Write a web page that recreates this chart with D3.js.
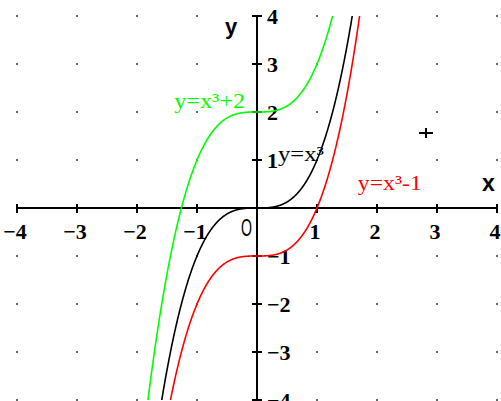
<!DOCTYPE html>
<html>
<head>
<meta charset="utf-8">
<script src="https://cdn.jsdelivr.net/npm/d3@7"></script>
<style>
  html, body { margin: 0; padding: 0; background: #fff; }
  svg { display: block; }
</style>
</head>
<body>
<svg id="chart" width="501" height="401"></svg>
<script>
// Plot window and ticks
const xDomain = [-4, 4];
const yDomain = [-4, 4];
const xTicks = [-4, -3, -2, -1, 1, 2, 3, 4];
const yTicks = [-4, -3, -2, -1, 1, 2, 3, 4];
const gridValues = [-4, -3, -2, -1, 0, 1, 2, 3, 4];

// The three cubics y = x³ + c
const curveNames = ["y=x³+2", "y=x³", "y=x³-1"];
const curveOffsets = [2, 0, -1];
const curveColors = ["#00ff00", "#000000", "#ff0000"];
// Label anchor points (data units) and widths for each curve name
const labelX = [-1.38, 0.35, 1.68];
const labelY = [2.08, 0.97, 0.37];
const labelWidth = [71, 46, 64];

// Cursor cross
const cursorPoint = [2.82, 1.56];

const svg = d3.select("#chart");
const x = d3.scaleLinear().domain(xDomain).range([17, 497]);
const y = d3.scaleLinear().domain(yDomain).range([400, 16]);

const minus = v => (v < 0 ? "\u2212" + Math.abs(v) : String(v));

// Dotted grid at integer points, skipping the axes
const dots = [];
gridValues.forEach(gx => gridValues.forEach(gy => {
  if (gx !== 0 && gy !== 0) dots.push([gx, gy]);
}));
svg.append("g").selectAll("rect").data(dots).join("rect")
  .attr("x", d => x(d[0]) - 1)
  .attr("y", d => y(d[1]) - 1)
  .attr("width", 2).attr("height", 2)
  .attr("fill", "#666");

// Axes
const axes = svg.append("g").attr("stroke", "#000").attr("stroke-width", 2)
  .attr("shape-rendering", "crispEdges");
axes.append("line")
  .attr("x1", x(-4)).attr("x2", x(4))
  .attr("y1", y(0)).attr("y2", y(0));
axes.append("line")
  .attr("x1", x(0)).attr("x2", x(0))
  .attr("y1", y(4)).attr("y2", y(-4));
axes.selectAll(".xt").data(xTicks).join("line").attr("class", "xt")
  .attr("x1", d => x(d)).attr("x2", d => x(d))
  .attr("y1", y(0) - 4.5).attr("y2", y(0) + 4.5);
axes.selectAll(".yt").data(yTicks).join("line").attr("class", "yt")
  .attr("x1", x(0) - 5).attr("x2", x(0) + 5)
  .attr("y1", d => y(d)).attr("y2", d => y(d));

// Tick labels
const tickFont = "'Liberation Serif', 'Times New Roman', serif";
svg.append("g").selectAll("text").data(xTicks).join("text")
  .attr("x", d => x(d) - 2)
  .attr("y", y(0) + 31)
  .attr("text-anchor", "middle")
  .attr("font-family", tickFont).attr("font-weight", "bold")
  .attr("font-size", 22)
  .text(minus);
svg.append("g").selectAll("text").data(yTicks).join("text")
  .attr("x", x(0) + 10)
  .attr("y", d => y(d) + 7.5)
  .attr("text-anchor", "start")
  .attr("font-family", tickFont).attr("font-weight", "bold")
  .attr("font-size", 22)
  .text(minus);

// Axis names and origin
svg.append("text")
  .attr("x", x(0) - 32).attr("y", y(4) + 18)
  .attr("font-family", "'Liberation Sans', Arial, sans-serif")
  .attr("font-weight", "bold").attr("font-size", 22)
  .text("y");
svg.append("text")
  .attr("x", x(4) - 15).attr("y", y(0) - 17)
  .attr("font-family", "'Liberation Sans', Arial, sans-serif")
  .attr("font-weight", "bold").attr("font-size", 23)
  .text("x");
svg.append("text")
  .attr("x", x(0) - 16).attr("y", y(0) + 28)
  .attr("font-family", "'Liberation Sans', Arial, sans-serif")
  .attr("font-size", 24)
  .attr("textLength", 11).attr("lengthAdjust", "spacingAndGlyphs")
  .text("O");

// Curves, clipped to the plot window
svg.append("clipPath").attr("id", "plotClip")
  .append("rect")
  .attr("x", x(-4)).attr("y", y(4))
  .attr("width", x(4) - x(-4)).attr("height", y(-4) - y(4));

const xs = d3.range(-2.2, 2.2001, 0.005);
const line = d3.line().x(d => x(d[0])).y(d => y(d[1]));
svg.append("g").attr("clip-path", "url(#plotClip)")
  .selectAll("path").data(curveOffsets).join("path")
  .attr("d", c => line(xs.map(v => [v, v * v * v + c])))
  .attr("fill", "none")
  .attr("stroke", (c, i) => curveColors[i])
  .attr("stroke-width", 1.6);

// Curve names
svg.append("g").selectAll("text").data(curveNames).join("text")
  .attr("x", (d, i) => x(labelX[i]))
  .attr("y", (d, i) => y(labelY[i]))
  .attr("font-family", tickFont)
  .attr("font-size", 22)
  .attr("textLength", (d, i) => labelWidth[i])
  .attr("lengthAdjust", "spacingAndGlyphs")
  .attr("fill", (d, i) => curveColors[i])
  .text(d => d);

// Cursor cross
const cross = svg.append("g").attr("stroke", "#000").attr("stroke-width", 1.5)
  .attr("shape-rendering", "crispEdges");
cross.append("line")
  .attr("x1", x(cursorPoint[0]) - 7).attr("x2", x(cursorPoint[0]) + 7)
  .attr("y1", y(cursorPoint[1])).attr("y2", y(cursorPoint[1]));
cross.append("line")
  .attr("x1", x(cursorPoint[0])).attr("x2", x(cursorPoint[0]))
  .attr("y1", y(cursorPoint[1]) - 5).attr("y2", y(cursorPoint[1]) + 5);
</script>
</body>
</html>
